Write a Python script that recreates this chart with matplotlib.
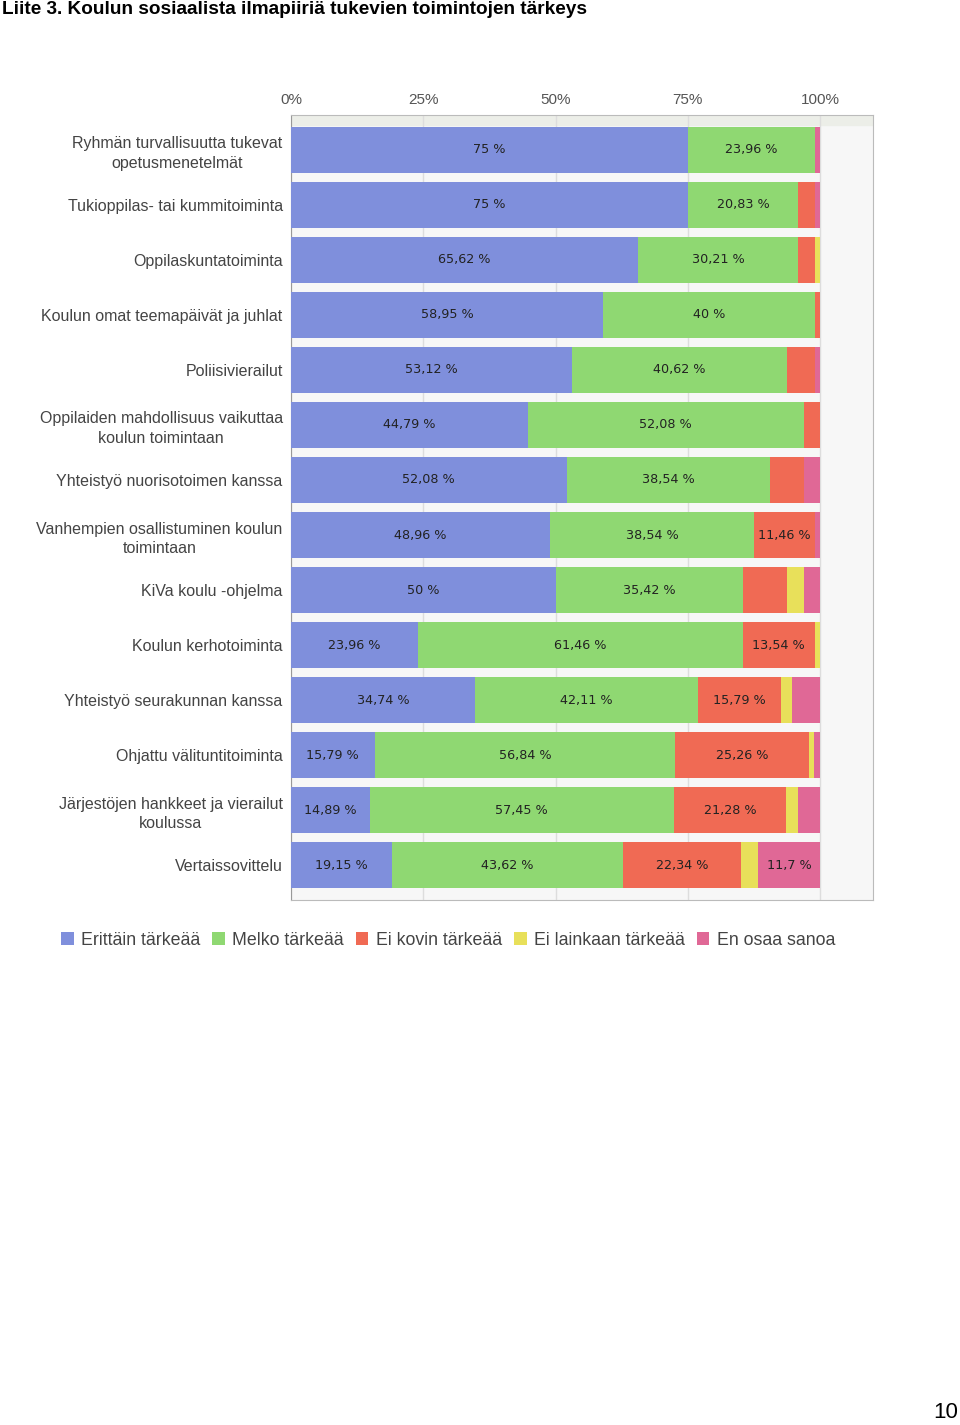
import numpy as np
import matplotlib
matplotlib.use("Agg")
from matplotlib import pyplot as plt
from matplotlib.patches import Patch

categories = [
    "Ryhmän turvallisuutta tukevat\nopetusmenetelmät",
    "Tukioppilas- tai kummitoiminta",
    "Oppilaskuntatoiminta",
    "Koulun omat teemapäivät ja juhlat",
    "Poliisivierailut",
    "Oppilaiden mahdollisuus vaikuttaa\nkoulun toimintaan",
    "Yhteistyö nuorisotoimen kanssa",
    "Vanhempien osallistuminen koulun\ntoimintaan",
    "KiVa koulu -ohjelma",
    "Koulun kerhotoiminta",
    "Yhteistyö seurakunnan kanssa",
    "Ohjattu välituntitoiminta",
    "Järjestöjen hankkeet ja vierailut\nkoulussa",
    "Vertaissovittelu",
]
series_names = ["Erittäin tärkeää", "Melko tärkeää", "Ei kovin tärkeää",
                "Ei lainkaan tärkeää", "En osaa sanoa"]
erittain = [75, 75, 65.62, 58.95, 53.12, 44.79, 52.08, 48.96, 50, 23.96, 34.74, 15.79, 14.89, 19.15]
melko = [23.96, 20.83, 30.21, 40, 40.62, 52.08, 38.54, 38.54, 35.42, 61.46, 42.11, 56.84, 57.45, 43.62]
ei_kovin = [0, 3.13, 3.13, 1.05, 5.21, 3.13, 6.25, 11.46, 8.33, 13.54, 15.79, 25.26, 21.28, 22.34]
ei_lainkaan = [0, 0, 1.04, 0, 0, 0, 0, 0, 3.13, 1.04, 2.11, 1.05, 2.13, 3.19]
en_osaa = [1.04, 1.04, 0, 0, 1.04, 0, 3.13, 1.04, 3.13, 0, 5.26, 1.05, 4.26, 11.7]
ticks = [0, 25, 50, 75, 100]
colors = ["#7f8fdc", "#8fd872", "#f06a54", "#e8e05a", "#e06896"]

data = [erittain, melko, ei_kovin, ei_lainkaan, en_osaa]

fig = plt.figure(figsize=(9.6, 14.25), dpi=100)
ax = fig.add_axes([291/960, 1-900/1425, (873-291)/960, (900-115)/1425])
ax.set_facecolor("#f7f7f7")

y = np.arange(len(categories))
left = np.zeros(len(categories))
for vals, col, name in zip(data, colors, series_names):
    vals = np.array(vals)
    ax.barh(y, vals, left=left, height=0.84, color=col, label=name, zorder=3)
    for yi, (l, v) in enumerate(zip(left, vals)):
        if v >= 10:
            txt = ("%g" % v).replace(".", ",") + " %"
            ax.text(l + v / 2, yi, txt, ha="center", va="center",
                    fontsize=9.2, color="#222222", family="DejaVu Sans", zorder=4)
    left += vals

ax.set_xlim(0, 110)
ax.set_ylim(len(categories) - 1 + 0.636, -0.636)
ax.xaxis.tick_top()
ax.set_xticks(ticks)
ax.set_xticklabels(["%d%%" % t for t in ticks], fontsize=11, color="#555555",
                   family="Liberation Sans")
ax.tick_params(axis="x", length=0, pad=6)
ax.set_yticks(y)
ax.set_yticklabels(categories, fontsize=11.5, color="#444444", family="Liberation Sans",
                   linespacing=1.4)
ax.tick_params(axis="y", length=0, pad=6)
for lab in ax.get_yticklabels():
    lab.set_horizontalalignment("right")
    lab.set_multialignment("center")
ax.grid(axis="x", color="#dddddd", linewidth=1, zorder=0)
ax.axhspan(-0.636, -0.45, color="#eceee8", zorder=1)
for s in ax.spines.values():
    s.set_color("#bbbbbb")
ax.spines["left"].set_color("#999999")

handles = [Patch(facecolor=c, edgecolor="none") for c in colors]
fig.legend(handles, series_names, loc="center", bbox_to_anchor=(448/960, 1-940/1425),
           ncol=5, frameon=False, handlelength=0.7, handleheight=0.7,
           handletextpad=0.4, columnspacing=0.7, labelcolor="#444444",
           prop={"family": "Liberation Sans", "size": 12.8})

fig.text(2/960, 1-10/1425, "Liite 3. Koulun sosiaalista ilmapiiriä tukevien toimintojen tärkeys",
         ha="left", va="center", fontsize=13.7, fontweight="bold",
         family="Liberation Sans")
fig.text(958/960, 1-1413/1425, "10", ha="right", va="center", fontsize=16,
         family="Liberation Sans")

fig.savefig("out.png", dpi=100)
